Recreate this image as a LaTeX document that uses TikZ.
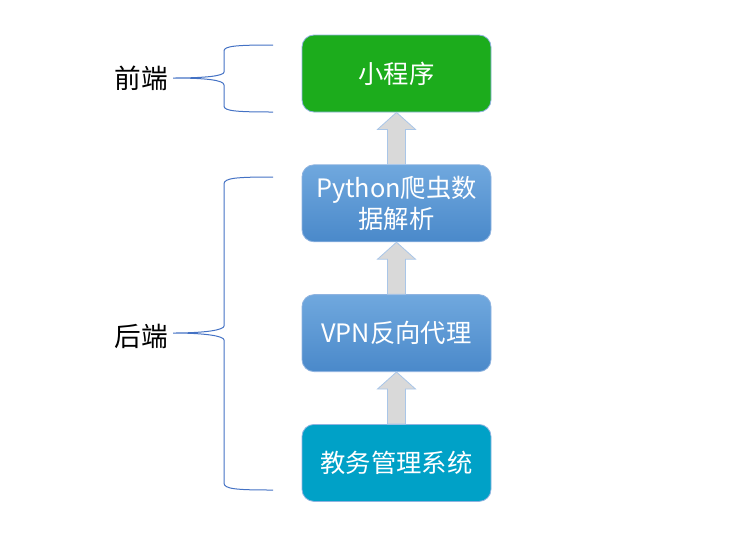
\documentclass[tikz,border=0pt]{standalone}
\usepackage{fontspec}
\setmainfont{Noto Sans CJK SC}
\usetikzlibrary{positioning,calc}
\definecolor{appgreen}{HTML}{1CAC1C}
\definecolor{bluetop}{HTML}{70A8DE}
\definecolor{bluebot}{HTML}{4A89CA}
\definecolor{sysblue}{HTML}{00A1C7}
\definecolor{boxline}{HTML}{8FB3E0}
\definecolor{arrfill}{HTML}{D9D9D9}
\definecolor{arrline}{HTML}{A9C6E8}
\definecolor{braceblue}{HTML}{4472C4}
\tikzset{
  layer/.style={draw=boxline,line width=0.6pt,rounded corners=9pt,text=white,
    minimum width=141.75pt,minimum height=57.75pt,align=center,
    font=\fontsize{19}{23}\selectfont},
  bluelayer/.style={layer,top color=bluetop,bottom color=bluebot},
  uparrow/.style={fill=arrfill,draw=arrline,line width=0.6pt},
  brace/.style={draw=braceblue,line width=0.75pt},
  side/.style={font=\fontsize{20}{24}\selectfont}
}
\newcommand{\uparr}[2]{\draw[uparrow] ($(#1.north)+(-9,0)$) -- ($(#2.south)+(-9,17)$)
  -- ($(#2.south)+(-19,17)$) -- (#2.south) -- ($(#2.south)+(19,17)$)
  -- ($(#2.south)+(9,17)$) -- ($(#1.north)+(9,0)$) -- cycle;}
\begin{document}
\begin{tikzpicture}[x=0.75pt,y=-0.75pt,node distance=39pt]
\useasboundingbox (0,0) rectangle (738,533);
\node[layer,fill=appgreen] (app) at (396.5,73.5) {小程序};
\node[bluelayer,below=of app] (spider) {Python爬虫数\\据解析};
\node[bluelayer,below=of spider] (vpn) {VPN反向代理};
\node[layer,fill=sysblue,below=of vpn] (jw) {教务管理系统};
\uparr{spider}{app}
\uparr{vpn}{spider}
\uparr{jw}{vpn}
% braces
\draw[brace] (273,45) .. controls (236,45) and (224,46) .. (224,51) -- (224,72)
  .. controls (224,76) and (205,78) .. (173,78)
  .. controls (205,78) and (224,80) .. (224,85) -- (224,106)
  .. controls (224,111) and (236,112) .. (273,112);
\draw[brace] (273,177) .. controls (236,177) and (224,178) .. (224,184) -- (224,326)
  .. controls (224,330) and (205,333) .. (173,333)
  .. controls (205,333) and (224,336) .. (224,340) -- (224,483)
  .. controls (224,489) and (236,490) .. (273,490);
\node[side] (qd) at (141,78) {前端};
\node[side] (hd) at (141,336) {后端};
\end{tikzpicture}
\end{document}
